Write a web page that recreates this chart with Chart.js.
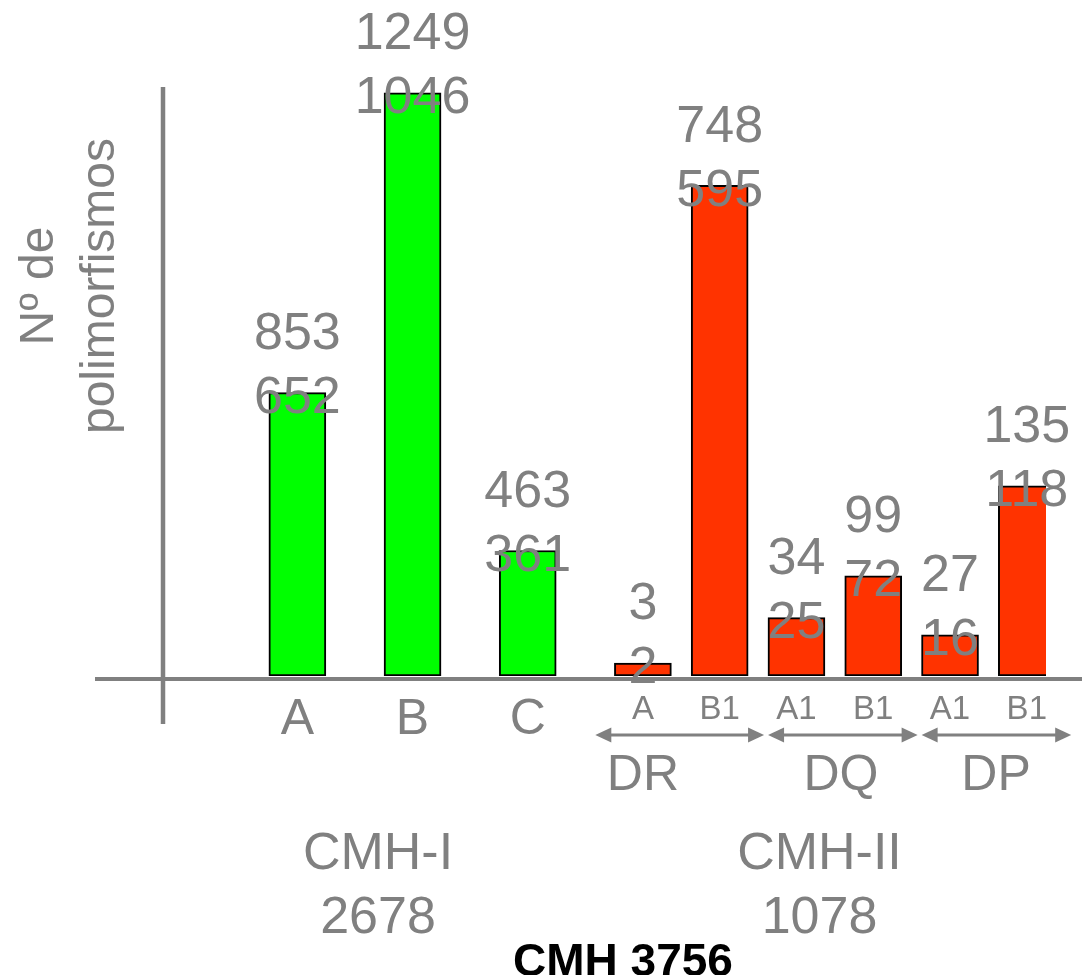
<!DOCTYPE html>
<html>
<head>
<meta charset="utf-8">
<script src="https://cdn.jsdelivr.net/npm/chart.js@4/dist/chart.umd.min.js"></script>
<style>
  html, body { margin: 0; padding: 0; background: #fff; }
  #wrap { width: 1082px; height: 975px; }
</style>
</head>
<body>
<div id="wrap"><canvas id="myChart" width="1082" height="975"></canvas></div>
<script>
// bar categories, left to right
const categories = ['A', 'B', 'C', 'A', 'B1', 'A1', 'B1', 'A1', 'B1'];
const subgroups = ['', '', '', 'DR', 'DR', 'DQ', 'DQ', 'DP', 'DP'];
const clusters = ['CMH-I', 'CMH-I', 'CMH-I', 'CMH-II', 'CMH-II', 'CMH-II', 'CMH-II', 'CMH-II', 'CMH-II'];

// heights as drawn on the unlabelled axis (0 = baseline, 100 = top of axis)
const barHeights = [48.1, 99.0, 21.3, 2.2, 83.3, 9.9, 17.0, 7.0, 32.3];

// the two numbers printed over each bar
const upperCounts = [853, 1249, 463, 3, 748, 34, 99, 27, 135];
const lowerCounts = [652, 1046, 361, 2, 595, 25, 72, 16, 118];

const clusterNames = ['CMH-I', 'CMH-II'];
const clusterTotals = [2678, 1078];
const grandTotal = 3756;
const axisTitle = ['Nº de', 'polimorfismos'];

const GRAY = '#808080';
const FONT = "'Liberation Sans', Arial, sans-serif";
const clusterColors = { 'CMH-I': '#00ff00', 'CMH-II': '#ff3300' };

// spacing of bars on the category axis (blank slots between them)
const slotSteps = [3, 3, 3, 3, 2, 2, 2, 2, 2];
const barSlots = [];
slotSteps.reduce((pos, step) => { barSlots.push(pos + step); return pos + step; }, 0);
const slotCount = barSlots[barSlots.length - 1] + 1;

const labels = new Array(slotCount).fill('');
const values = new Array(slotCount).fill(null);
const colors = new Array(slotCount).fill('transparent');
barSlots.forEach((slot, i) => {
    labels[slot] = categories[i];
    values[slot] = barHeights[i];
    colors[slot] = clusterColors[clusters[i]];
});

// where the group captions sit, as a fraction between first and last bar of the group
const subgroupLabelAt = { DR: 0, DQ: 0.58, DP: 0.6 };
const clusterLabelAt = { 'CMH-I': 0.35, 'CMH-II': 0.46 };

function arrow(ctx, x1, x2, y) {
    const head = 16, half = 7.5;
    ctx.strokeStyle = GRAY;
    ctx.fillStyle = GRAY;
    ctx.lineWidth = 3;
    ctx.beginPath();
    ctx.moveTo(x1 + head - 2, y);
    ctx.lineTo(x2 - head + 2, y);
    ctx.stroke();
    ctx.beginPath();
    ctx.moveTo(x1, y); ctx.lineTo(x1 + head, y - half); ctx.lineTo(x1 + head, y + half); ctx.closePath();
    ctx.fill();
    ctx.beginPath();
    ctx.moveTo(x2, y); ctx.lineTo(x2 - head, y - half); ctx.lineTo(x2 - head, y + half); ctx.closePath();
    ctx.fill();
}

const overlay = {
    id: 'overlay',
    afterDatasetsDraw(chart) {
        const ctx = chart.ctx;
        const area = chart.chartArea;
        const x = chart.scales.x;
        const meta = chart.getDatasetMeta(0);
        const barX = barSlots.map(s => x.getPixelForValue(s));
        const slotW = x.getPixelForValue(1) - x.getPixelForValue(0);

        ctx.save();
        // axis lines
        ctx.strokeStyle = GRAY;
        ctx.lineWidth = 4.5;
        ctx.beginPath();
        ctx.moveTo(area.left, area.top);
        ctx.lineTo(area.left, area.bottom + 48);
        ctx.stroke();
        ctx.lineWidth = 4;
        ctx.beginPath();
        ctx.moveTo(95, area.bottom + 3);
        ctx.lineTo(chart.width, area.bottom + 3);
        ctx.stroke();

        // value labels
        ctx.fillStyle = GRAY;
        ctx.font = '52px ' + FONT;
        ctx.textAlign = 'center';
        ctx.textBaseline = 'middle';
        barSlots.forEach((slot, i) => {
            const bar = meta.data[slot];
            ctx.fillText(String(lowerCounts[i]), bar.x, bar.y + 6);
            ctx.fillText(String(upperCounts[i]), bar.x, bar.y + 6 - 64);
        });

        // sub-group arrows and captions
        const names = [...new Set(subgroups.filter(s => s))];
        names.forEach(name => {
            const idx = subgroups.map((s, i) => s === name ? i : -1).filter(i => i >= 0);
            const first = idx[0], last = idx[idx.length - 1];
            const left = (barX[first] + barX[first - 1]) / 2 + 8;
            const right = (last + 1 < barX.length ? (barX[last] + barX[last + 1]) / 2 : barX[last] + slotW) + 8;
            arrow(ctx, left + 2, right - 2, area.bottom + 59);
            ctx.fillStyle = GRAY;
            ctx.font = '50px ' + FONT;
            ctx.textBaseline = 'middle';
            const cx = barX[first] + subgroupLabelAt[name] * (barX[last] - barX[first]);
            ctx.fillText(name, cx, area.bottom + 100);
        });

        // cluster captions
        ctx.font = '52px ' + FONT;
        clusterNames.forEach((name, k) => {
            const idx = clusters.map((c, i) => c === name ? i : -1).filter(i => i >= 0);
            const a = barX[idx[0]], b = barX[idx[idx.length - 1]];
            const cx = a + clusterLabelAt[name] * (b - a);
            ctx.fillText(name, cx, area.bottom + 179);
            ctx.fillText(String(clusterTotals[k]), cx, area.bottom + 243);
        });

        // y title, rotated
        ctx.save();
        ctx.translate(0, 286);
        ctx.rotate(-Math.PI / 2);
        ctx.font = '48px ' + FONT;
        ctx.textBaseline = 'alphabetic';
        ctx.fillText(axisTitle[0], 0, 53);
        ctx.fillText(axisTitle[1], 0, 114);
        ctx.restore();

        // bottom title
        ctx.fillStyle = '#000';
        ctx.font = 'bold 46px ' + FONT;
        ctx.textBaseline = 'alphabetic';
        ctx.fillText('CMH ' + grandTotal, 623, 976);
        ctx.restore();
    }
};

new Chart(document.getElementById('myChart').getContext('2d'), {
    type: 'bar',
    data: {
        labels: labels,
        datasets: [{
            data: values,
            backgroundColor: colors,
            borderColor: '#000',
            borderWidth: 2,
            borderSkipped: false,
            barThickness: 57
        }]
    },
    options: {
        responsive: false,
        animation: false,
        layout: { padding: { left: 163, right: 36, top: 87, bottom: 211 } },
        plugins: { legend: { display: false }, tooltip: { enabled: false } },
        scales: {
            x: {
                grid: { display: false, drawTicks: false },
                border: { display: false },
                ticks: {
                    autoSkip: false,
                    maxRotation: 0,
                    padding: 14,
                    color: GRAY,
                    font: ctx => ({
                        family: FONT,
                        size: subgroups[barSlots.indexOf(ctx.index)] ? 33 : 50
                    })
                }
            },
            y: { display: false, min: 0, max: 100 }
        }
    },
    plugins: [overlay]
});
</script>
</body>
</html>
